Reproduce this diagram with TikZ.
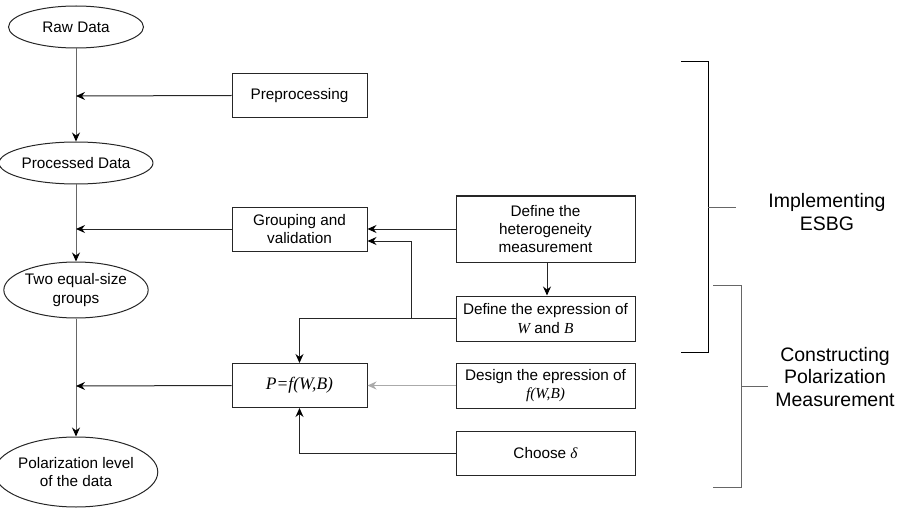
\documentclass[tikz,border=0pt]{standalone}
\usepackage{fontspec}
\setmainfont{Liberation Sans}
\newfontfamily\tms{Liberation Serif}
\usetikzlibrary{shapes.geometric,arrows.meta}
\definecolor{lngrey}{HTML}{666666}
\definecolor{ltgrey}{HTML}{AAAAAA}
\tikzset{
  base/.style={font=\fontsize{15.3}{18.4}\selectfont, align=center, inner sep=0pt, line width=1pt},
  oval/.style={base, ellipse, draw=black!85, minimum width=135pt},
  boxa/.style={base, rectangle, draw=black!85, minimum width=135pt, minimum height=44pt},
  boxb/.style={base, rectangle, draw=black!85, minimum width=179pt, minimum height=45pt},
  tip/.style={-{Stealth[length=9pt,width=8pt,inset=3pt,color=black]}},
  conn/.style={line width=1pt, draw=black!85, tip},
  mainln/.style={line width=1pt, draw=lngrey, tip},
  greyconn/.style={line width=1pt, draw=ltgrey, -{Stealth[length=9pt,width=8pt,inset=3pt,color=ltgrey]}},
  brk/.style={line width=1pt, draw=black},
  brkg/.style={line width=1pt, draw=lngrey},
  lbl/.style={font=\fontsize{19.5}{22.5}\selectfont, align=center, inner sep=0pt}
}
\newcommand{\mi}[1]{{\tms\itshape #1}}
\begin{document}
\begin{tikzpicture}[x=1pt,y=-1pt]
\useasboundingbox (0,0) rectangle (900,508);
% ellipses
\node[oval, minimum height=42pt] (raw) at (76,27) {Raw Data};
\node[oval, minimum height=42pt] (proc) at (76,163) {Processed Data};
\node[oval, minimum height=56pt] (two) at (76,290) {Two equal-size\\groups};
\node[oval, minimum height=70pt] (pol) at (76,472) {Polarization level\\of the data};
% boxes
\node[boxa] (pre) at (299.5,95.5) {Preprocessing};
\node[boxa] (grp) at (299.5,229) {Grouping and\\validation};
\node[boxa] (pf) at (299.5,385.5) {\fontsize{17.5}{20}\selectfont\mi{P=f(W,B)}};
\node[boxb, minimum height=66pt] (het) at (545.5,229) {Define the\\heterogeneity\\measurement};
\node[boxb] (wb) at (545.5,318.5) {Define the expression of\\\mi{W} and \mi{B}};
\node[boxb] (des) at (545.5,385.5) {Design the epression of\\\mi{f(W,B)}};
\node[boxb, minimum height=44pt] (cho) at (545.5,453) {Choose \mi{δ}};
% junction coordinates on main line
\coordinate (j1) at (76,96);
\coordinate (j2) at (76,229);
\coordinate (j3) at (76,386);
\coordinate (k1) at (411,318.5);
% main flow
\draw[mainln] (raw.south) -- (proc.north);
\draw[mainln] (proc.south) -- (two.north);
\draw[mainln] (two.south) -- (pol.north);
\draw[conn] (pre.west) -- (j1);
\draw[conn] (grp.west) -- (j2);
\draw[conn] (pf.west) -- (j3);
% right side
\draw[conn] (het.west) -- (grp.east);
\draw[conn] ([xshift=1.5pt]het.south) -- ([xshift=1.5pt]wb.north);
\draw[conn] (wb.west) -- (k1) |- ([yshift=-12pt]grp.east);
\draw[conn] (wb.west) -| (pf.north);
\draw[greyconn] (des.west) -- (pf.east);
\draw[conn] (cho.west) -| (pf.south);
% brackets
\coordinate (b1a) at (681,62);
\coordinate (b1b) at (708,62);
\coordinate (b1c) at (708,352);
\coordinate (b1d) at (681,352);
\coordinate (b1m) at (708,207);
\coordinate (b1t) at (736,207);
\draw[brk] (b1a) -- (b1b) -- (b1c) -- (b1d);
\draw[brkg] (b1m) -- (b1t);
\coordinate (b2a) at (713,285);
\coordinate (b2b) at (741,285);
\coordinate (b2c) at (741,487);
\coordinate (b2d) at (713,487);
\coordinate (b2m) at (741,386);
\coordinate (b2t) at (768,386);
\draw[brkg] (b2a) -- (b2b) -- (b2c) -- (b2d);
\draw[brkg] (b2m) -- (b2t);
\node[lbl] (esbg) at (827,212) {Implementing\\ESBG};
\node[lbl] (cpm) at (835,377) {Constructing\\Polarization\\Measurement};
\end{tikzpicture}
\end{document}
